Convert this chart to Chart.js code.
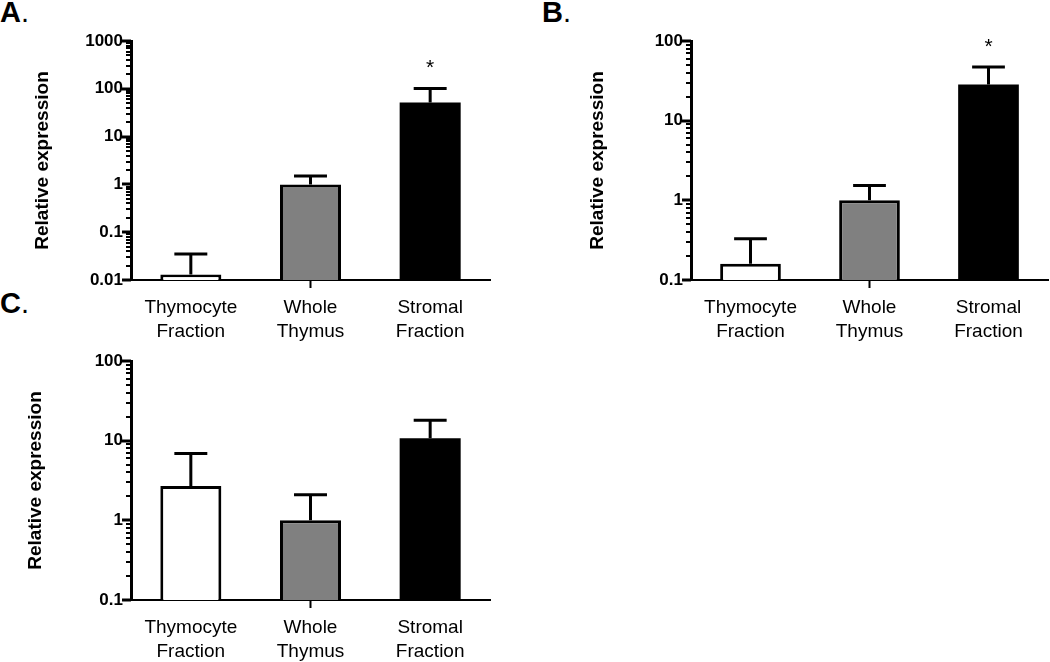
<!DOCTYPE html>
<html>
<head>
<meta charset="utf-8">
<script src="https://cdn.jsdelivr.net/npm/chart.js@4"></script>
<style>
  body { margin: 0; background: #fff; width: 1050px; height: 662px; position: relative; overflow: hidden; font-family: "Liberation Sans", Arial, sans-serif; }
  canvas { position: absolute; }
  .letra { position: absolute; font-size: 29px; line-height: 29px; color: #000; }
</style>
</head>
<body>
<div class="letra" style="left:0;top:-2px"><b>A</b>.</div>
<div class="letra" style="left:542px;top:-2px"><b>B</b>.</div>
<div class="letra" style="left:0;top:289px"><b>C</b>.</div>

<canvas id="chartA" width="500" height="345" style="left:0;top:0"></canvas>
<canvas id="chartB" width="510" height="345" style="left:540px;top:0"></canvas>
<canvas id="chartC" width="500" height="342" style="left:0;top:320px"></canvas>

<script>
// categories and colours
var categories = [["Thymocyte", "Fraction"], ["Whole", "Thymus"], ["Stromal", "Fraction"]];
var barColors = ["#ffffff", "#808080", "#000000"];

// panel A
var valuesA = [0.013, 1.0, 52];
var errorsA = [0.022, 0.5, 50];
var marksA = ["", "", "*"];
var ticksA = [0.01, 0.1, 1, 10, 100, 1000];
var tickLabelsA = ["0.01", "0.1", "1", "10", "100", "1000"];

// panel B
var valuesB = [0.16, 1.0, 28.5];
var errorsB = [0.17, 0.54, 18.5];
var marksB = ["", "", "*"];
var ticksB = [0.1, 1, 10, 100];
var tickLabelsB = ["0.1", "1", "10", "100"];

// panel C
var valuesC = [2.7, 1.0, 10.7];
var errorsC = [4.2, 1.1, 7.4];
var marksC = ["", "", ""];
var ticksC = [0.1, 1, 10, 100];
var tickLabelsC = ["0.1", "1", "10", "100"];

var fonte = '"Liberation Sans", Arial, sans-serif';

// error bars + asterisks
var errorBars = {
  id: "errorBars",
  afterDatasetsDraw: function (chart) {
    var ctx = chart.ctx;
    var meta = chart.getDatasetMeta(0);
    var ds = chart.data.datasets[0];
    var y = chart.scales.y;
    ctx.save();
    ctx.strokeStyle = "#000";
    ctx.fillStyle = "#000";
    ctx.lineWidth = 3;
    meta.data.forEach(function (bar, i) {
      var top = y.getPixelForValue(ds.data[i] + ds.errors[i]);
      var half = bar.width * 0.27;
      ctx.beginPath();
      ctx.moveTo(bar.x, bar.y);
      ctx.lineTo(bar.x, top);
      ctx.moveTo(bar.x - half, top);
      ctx.lineTo(bar.x + half, top);
      ctx.stroke();
      if (ds.marks[i]) {
        ctx.font = "21px " + fonte;
        ctx.textAlign = "center";
        ctx.textBaseline = "alphabetic";
        ctx.fillText(ds.marks[i], bar.x, top - 14);
      }
    });
    ctx.restore();
  }
};

// log ticks on the y axis (long majors, short minors)
var yTicks = {
  id: "yTicks",
  afterDraw: function (chart) {
    var s = chart.scales.y;
    var ctx = chart.ctx;
    ctx.save();
    ctx.strokeStyle = "#000";
    s.ticks.forEach(function (t) {
      var py = Math.round(s.getPixelForValue(t.value));
      var len = t.major ? 9 : 5;
      ctx.lineWidth = t.major ? 3 : 2;
      ctx.beginPath();
      ctx.moveTo(s.right - len, py);
      ctx.lineTo(s.right, py);
      ctx.stroke();
    });
    ctx.restore();
  }
};

function makeChart(id, values, errors, marks, majors, labels, yWidth, xHeight, titlePad, padRight) {
  var allTicks = [];
  for (var i = 0; i < majors.length; i++) {
    allTicks.push({ value: majors[i], major: true });
    if (i < majors.length - 1) {
      for (var k = 2; k <= 9; k++) {
        allTicks.push({ value: parseFloat((majors[i] * k).toPrecision(3)), major: false });
      }
    }
  }

  new Chart(document.getElementById(id), {
    type: "bar",
    data: {
      labels: categories,
      datasets: [{
        data: values,
        errors: errors,
        marks: marks,
        backgroundColor: barColors,
        borderColor: "#000",
        // black bar needs no separate border (avoids a grey seam)
        borderWidth: function (c) { return barColors[c.dataIndex] === "#000000" ? 0 : 3; },
        borderSkipped: "start",
        inflateAmount: 0,
        barPercentage: 0.51,
        categoryPercentage: 1
      }]
    },
    options: {
      responsive: false,
      animation: false,
      layout: { padding: { left: 0, top: 41, right: padRight, bottom: 0 } },
      plugins: { legend: { display: false }, tooltip: { enabled: false } },
      scales: {
        x: {
          offset: true,
          grid: {
            display: true,
            drawOnChartArea: false,
            offset: false,
            tickLength: 8,
            tickWidth: 2,
            tickColor: function (c) { return c.index === 1 ? "#000" : "rgba(0,0,0,0)"; }
          },
          border: { display: true, color: "#000", width: 2 },
          ticks: {
            color: "#000",
            font: { family: fonte, size: 19, lineHeight: 1.27 },
            padding: 8,
            maxRotation: 0,
            autoSkip: false
          },
          afterFit: function (s) { s.height = xHeight; }
        },
        y: {
          type: "logarithmic",
          min: majors[0],
          max: majors[majors.length - 1],
          grid: {
            display: true,
            drawOnChartArea: false,
            tickLength: 7,
            color: "rgba(0,0,0,0)",
            tickColor: "rgba(0,0,0,0)"
          },
          border: { display: true, color: "#000", width: 3 },
          ticks: {
            color: "#000",
            autoSkip: false,
            padding: 1,
            font: { family: fonte, size: 17, weight: "bold" },
            callback: function (v) {
              var j = majors.indexOf(v);
              return j >= 0 ? labels[j] : "";
            }
          },
          afterBuildTicks: function (s) {
            s.ticks = allTicks.map(function (t) { return { value: t.value, major: t.major }; });
          },
          title: {
            display: true,
            text: "Relative expression",
            color: "#000",
            font: { family: fonte, size: 19, weight: "bold" },
            padding: { top: titlePad, bottom: 0 }
          },
          afterFit: function (s) { s.width = yWidth; }
        }
      }
    },
    plugins: [errorBars, yTicks]
  });
}

makeChart("chartA", valuesA, errorsA, marksA, ticksA, tickLabelsA, 131, 65, 31, 10);
makeChart("chartB", valuesB, errorsB, marksB, ticksB, tickLabelsB, 151, 65, 46, 2);
makeChart("chartC", valuesC, errorsC, marksC, ticksC, tickLabelsC, 131, 62, 24, 10);
</script>
</body>
</html>
